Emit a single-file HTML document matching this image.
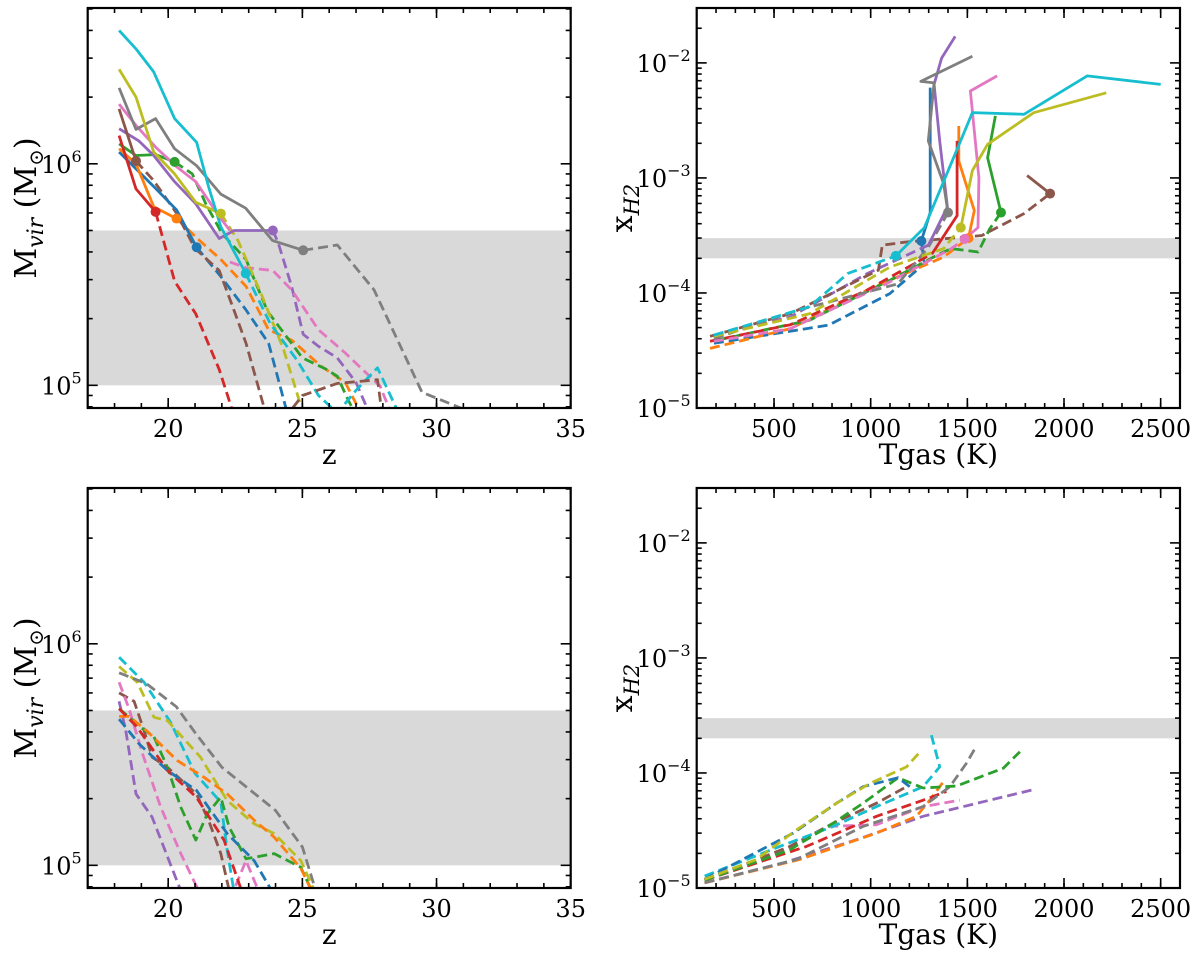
<!DOCTYPE html>
<html><head><meta charset="utf-8"><style>
html,body{margin:0;padding:0;background:#fff}
svg{display:block;font-family:"DejaVu Serif","Liberation Serif",serif}
</style></head><body>
<svg id="fig" width="1200" height="957" viewBox="0 0 1200 957" xmlns="http://www.w3.org/2000/svg"></svg>
<script>
// ===== data: top-left (z vs Mvir) =====
const tlBlueSz=[18.17,19.46,20.31,21.06], tlBlueSm=[1.13e6,7.9e5,6.2e5,4.2e5];
const tlBlueDz=[21.06,21.96,22.89,23.74,24.5], tlBlueDm=[4.2e5,3.1e5,2.2e5,1.55e5,7.0e4];
const tlOrangeSz=[18.17,18.8,19.46,20.31], tlOrangeSm=[1.17e6,1e6,6.4e5,5.66e5];
const tlOrangeDz=[20.31,21.17,21.96,22.9,23.74,24.6,25.7,26.6,27.3], tlOrangeDm=[5.66e5,4.5e5,3.7e5,2.8e5,1.78e5,1.6e5,1.22e5,1.03e5,7e4];
const tlGreenSz=[18.17,18.8,19.53,20.24], tlGreenSm=[1.23e6,1.09e6,1.1e6,1.02e6];
const tlGreenDz=[20.24,20.9,21.4,22.0,22.9,23.7,25.0,25.9,26.3,26.7,27.1], tlGreenDm=[1.02e6,9e5,6.6e5,4.85e5,3.7e5,2.16e5,1.33e5,1.18e5,1.1e5,8.6e4,7e4];
const tlRedSz=[18.17,18.8,19.53], tlRedSm=[1.34e6,7.7e5,6.07e5];
const tlRedDz=[19.53,20.24,21.03,21.9,22.5], tlRedDm=[6.07e5,2.95e5,2.1e5,1.18e5,7e4];
const tlPurpleSz=[18.17,18.9,19.46,20.24,21.03,21.9,22.46,23.9], tlPurpleSm=[1.44e6,1.27e6,1.09e6,8.3e5,6.6e5,4.6e5,5e5,5e5];
const tlPurpleDz=[23.9,24.1,24.6,25.03,25.6,26.3,27.0,27.6], tlPurpleDm=[5e5,4.4e5,2.8e5,1.7e5,1.5e5,1.33e5,1.03e5,7e4];
const tlBrownSz=[18.17,18.8], tlBrownSm=[1.77e6,1.03e6];
const tlBrownDz=[18.8,19.46,20.3,21.0,21.9,22.4,22.9,23.7], tlBrownDm=[1.03e6,8.4e5,6e5,4.15e5,3.3e5,2.27e5,1.55e5,7e4];
const tlBrown2Dz=[24.3,25.0,26.3,27.8,28.0], tlBrown2Dm=[7e4,9e4,1.02e5,1.06e5,7e4];
const tlPinkSz=[18.17,18.8,19.53,20.31,21.03,21.96,22.3], tlPinkSm=[1.86e6,1.49e6,1.19e6,9.7e5,8.3e5,5.66e5,5e5];
const tlPinkDz=[22.3,22.9,23.9,24.6,25.6,26.6,27.9,28.4], tlPinkDm=[3.6e5,3.4e5,3.3e5,2.7e5,1.78e5,1.4e5,9.9e4,7e4];
const tlGraySz=[18.17,18.8,19.53,20.24,21.06,21.96,22.89,23.89,25.03], tlGraySm=[2.2e6,1.43e6,1.6e6,1.17e6,9.8e5,7.3e5,6.3e5,4.5e5,4.07e5];
const tlGrayDz=[25.03,26.3,27.67,29.46,30.9,31.6], tlGrayDm=[4.07e5,4.3e5,2.7e5,9.3e4,7.9e4,7.4e4];
const tlOliveSz=[18.17,18.8,19.46,20.24,21.03,21.96], tlOliveSm=[2.67e6,2.0e6,1.13e6,9e5,6.7e5,5.96e5];
const tlOliveDz=[21.96,22.6,23.46,24.3,25.1], tlOliveDm=[5.96e5,4.5e5,2.6e5,1.45e5,7e4];
const tlCyanSz=[18.17,18.8,19.46,20.24,21.06,21.5,21.96,22.89], tlCyanSm=[4.0e6,3.3e6,2.6e6,1.6e6,1.25e6,7.9e5,5.2e5,3.2e5];
const tlCyanDz=[22.89,23.8,24.8,25.6,26.3,27.0,27.8,28.7], tlCyanDm=[3.2e5,1.9e5,1.3e5,9e4,7.5e4,9.5e4,1.2e5,7e4];

// ===== data: top-right (Tgas vs xH2) =====
const trBlueDt=[189,783,1100,1278,1262], trBlueDx=[3.65e-5,5.26e-5,9.9e-5,1.8e-4,2.83e-4];
const trBlueSt=[1262,1308,1308], trBlueSx=[2.83e-4,5e-4,6.1e-3];
const trOrangeDt=[169,585,981,1377,1506], trOrangeDx=[3.3e-5,4.9e-5,1.06e-4,2.05e-4,3.0e-4];
const trOrangeSt=[1506,1536,1456,1456], trOrangeSx=[3.0e-4,5.2e-4,1.4e-3,2.83e-3];
const trGreenDt=[209,684,1100,1357,1417,1556,1615,1674], trGreenDx=[3.9e-5,5.8e-5,1.29e-4,2.19e-4,2.43e-4,2.27e-4,3.6e-4,5e-4];
const trGreenSt=[1674,1605,1645], trGreenSx=[5e-4,1.5e-3,3.46e-3];
const trRedDt=[169,585,981,1318], trRedDx=[3.8e-5,5.3e-5,1.06e-4,2.2e-4];
const trRedSt=[1318,1387,1447,1447], trRedSx=[2.2e-4,3.3e-4,4.7e-4,2.1e-3];
const trPurpleDt=[189,585,981,1298], trPurpleDx=[4.2e-5,6.2e-5,1.47e-4,2.6e-4];
const trPurpleSt=[1298,1337,1397,1357,1328,1367,1437], trPurpleSx=[2.6e-4,3.5e-4,5.6e-4,2.1e-3,6.5e-3,1.1e-2,1.7e-2];
const trBrownDt=[169,585,1040,1060,1179,1575,1793,1928], trBrownDx=[4.2e-5,6.6e-5,1.58e-4,2.6e-4,2.77e-4,3.16e-4,4.9e-4,7.3e-4];
const trBrownSt=[1928,1809], trBrownSx=[7.3e-4,1.05e-3];
const trPinkDt=[189,585,1080,1417,1486], trPinkDx=[3.8e-5,4.9e-5,1.2e-4,2.43e-4,2.95e-4];
const trPinkSt=[1486,1555,1560,1516,1654], trPinkSx=[2.95e-4,3.7e-4,1.0e-3,5.7e-3,7.7e-3];
const trGrayDt=[189,625,1140,1298,1400], trGrayDx=[4.0e-5,7.1e-5,1.2e-4,2.5e-4,5e-4];
const trGraySt=[1400,1377,1298,1328,1259,1526], trGraySx=[5e-4,8.9e-4,2.1e-3,6.7e-3,6.9e-3,1.14e-2];
const trOliveDt=[189,684,1100,1377,1466], trOliveDx=[4.2e-5,6.6e-5,1.68e-4,2.43e-4,3.7e-4];
const trOliveSt=[1466,1526,1605,1843,2219], trOliveSx=[3.7e-4,1.16e-3,1.96e-3,3.69e-3,5.5e-3];
const trCyanDt=[189,684,882,1130], trCyanDx=[4.3e-5,7.6e-5,1.48e-4,2.1e-4];
const trCyanSt=[1130,1278,1526,1793,2120,2500], trCyanSx=[2.1e-4,3.7e-4,3.7e-3,3.57e-3,7.7e-3,6.5e-3];

// ===== data: bottom-left (z vs Mvir, dashed only) =====
const blCyanZ=[18.17,19.1,20.1,21.0,21.96,22.2,22.5], blCyanM=[8.7e5,6.7e5,4.4e5,2.6e5,1.93e5,1.17e5,7e4];
const blOliveZ=[18.17,18.85,19.47,19.97,21.2,22.2,23.2,23.95,24.94,25.6], blOliveM=[7.9e5,6.7e5,4.66e5,4.5e5,3.08e5,1.96e5,1.54e5,1.39e5,1.05e5,7e4];
const blGrayZ=[18.17,19.2,20.3,21.05,22.0,24.0,25.0,25.6], blGrayM=[7.4e5,6.6e5,5.2e5,3.9e5,2.77e5,1.77e5,1.21e5,7e4];
const blBrownZ=[18.17,18.73,19.1,19.4,19.97,21.05,21.5,21.96,22.35], blBrownM=[6.0e5,5.5e5,4.05e5,3.08e5,2.77e5,2.1e5,1.6e5,1.13e5,7e4];
const blPinkZ=[18.17,18.54,19.04,19.72,20.47,21.0,21.3], blPinkM=[6.7e5,5.1e5,3.2e5,1.83e5,1.13e5,8.3e4,7e4];
const blPink2Z=[22.3,22.9,23.5], blPink2M=[7e4,1.05e5,7e4];
const blPurpleZ=[18.17,18.42,18.8,19.4,20.03,20.6], blPurpleM=[5.5e5,4.05e5,2.1e5,1.65e5,1.05e5,7e4];
const blGreenZ=[18.17,18.98,19.47,19.97,20.47,21.03,21.46,21.96,22.27,22.9,23.95,24.94,25.5], blGreenM=[5.1e5,4.2e5,3.8e5,2.77e5,1.83e5,1.3e5,1.71e5,2.03e5,1.49e5,1.07e5,1.13e5,9.8e4,7e4];
const blOrangeZ=[18.17,18.54,19.2,20.34,21.33,22.2,23.2,23.95,24.94,25.5], blOrangeM=[4.7e5,4.7e5,4.05e5,2.97e5,2.5e5,2.1e5,1.6e5,1.34e5,9.7e4,7e4];
const blRedZ=[18.17,18.85,19.97,21.05,22.08,22.85], blRedM=[5.1e5,4.2e5,2.68e5,2.03e5,1.3e5,7e4];
const blBlueZ=[18.17,18.92,19.97,21.05,22.2,23.2,24.05], blBlueM=[4.57e5,3.53e5,2.68e5,2.18e5,1.39e5,1.05e5,7e4];

// ===== data: bottom-right (Tgas vs xH2, dashed only) =====
const brOliveT=[141,409,616,823,996,1185,1256], brOliveX=[1.19e-5,1.77e-5,3.2e-5,5.46e-5,8.1e-5,1.13e-4,1.53e-4];
const brBlueT=[141,599,823,961,1142,1202], brBlueX=[1.19e-5,3e-5,5.46e-5,7.6e-5,9.1e-5,7.6e-5];
const brGreenT=[141,582,806,961,1142,1271,1444,1686,1772], brGreenX=[1.17e-5,2.15e-5,3.66e-5,5.46e-5,9.1e-5,7.4e-5,7.7e-5,1.1e-4,1.53e-4];
const brCyanT=[141,530,806,1030,1271,1357,1314], brCyanX=[1.27e-5,2.3e-5,3.43e-5,5.1e-5,7.6e-5,1.13e-4,2.13e-4];
const brBrownT=[141,582,806,1030,1185], brBrownX=[1.17e-5,2.3e-5,3.66e-5,5.46e-5,7.6e-5];
const brGrayT=[141,616,961,1271,1409,1496,1539], brGrayX=[1.11e-5,1.77e-5,3.43e-5,5.1e-5,7.6e-5,1.22e-4,1.63e-4];
const brRedT=[141,668,1030,1271,1392], brRedX=[1.17e-5,2.3e-5,4.2e-5,5.8e-5,6.9e-5];
const brPinkT=[141,495,789,1030,1271,1461], brPinkX=[1.17e-5,1.89e-5,3.43e-5,3.55e-5,5.1e-5,5.8e-5];
const brOrangeT=[141,633,1030,1237,1306,1383], brOrangeX=[1.11e-5,1.77e-5,3e-5,4.2e-5,5.8e-5,8.7e-5];
const brPurpleT=[141,547,927,1271,1832], brPurpleX=[1.11e-5,1.65e-5,2.63e-5,4.2e-5,7.1e-5];

const zTicks=[20,25,30,35], tTicks=[500,1000,1500,2000,2500];
const mExps=[5,6], xExps=[-5,-4,-3,-2];
const bandM=[1e5,5e5], bandX=[2e-4,3e-4];

const C={blue:'#1f77b4',orange:'#ff7f0e',green:'#2ca02c',red:'#d62728',purple:'#9467bd',brown:'#8c564b',pink:'#e377c2',gray:'#7f7f7f',olive:'#bcbd22',cyan:'#17becf'};
const NS='http://www.w3.org/2000/svg';
const svg=document.getElementById('fig');
function mk(tag,attrs,parent){const e=document.createElementNS(NS,tag);for(const k in attrs)e.setAttribute(k,attrs[k]);(parent||svg).appendChild(e);return e;}

function panel(id,L,T,R,B,xmin,xmax,ylogmin,ylogmax){
  const g=mk('g',{});
  
  
  const clip=mk('clipPath',{id:'clip-'+id},g);
  mk('rect',{x:L,y:T,width:R-L,height:B-T},clip);
  const sx=v=>L+(v-xmin)/(xmax-xmin)*(R-L);
  const sy=v=>B-(Math.log10(v)-ylogmin)/(ylogmax-ylogmin)*(B-T);
  const plot=mk('g',{'clip-path':'url(#clip-'+id+')'},g);
  return {g,plot,sx,sy,L,T,R,B,xmin,xmax,ylogmin,ylogmax};
}
function band(p,lo,hi,name){
  const r=mk('rect',{x:p.L,y:p.sy(hi),width:p.R-p.L,height:p.sy(lo)-p.sy(hi),fill:'#d9d9d9'},p.plot);
  
  
}
function line(p,xs,ys,color,dashed,name){
  const d=xs.map((x,i)=>(i?'L':'M')+p.sx(x).toFixed(1)+','+p.sy(ys[i]).toFixed(1)).join('');
  const e=mk('path',{d:d,fill:'none',stroke:color,'stroke-width':2.8,'stroke-linejoin':'round'},p.plot);
  if(dashed)e.setAttribute('stroke-dasharray','10,5');
  
  
}
function marker(p,x,y,color,name){
  const c=mk('circle',{cx:p.sx(x),cy:p.sy(y),r:5,fill:color},p.plot);
  
  
}
function axes(p,xt,xminorStep,exps,xlabelNodes,ylabelFn,ylabX,prefix){
  const g=p.g;
  const fr=mk('rect',{x:p.L,y:p.T,width:p.R-p.L,height:p.B-p.T,fill:'none',stroke:'#000','stroke-width':2.2},g);
  
  
  const tk=(x1,y1,x2,y2)=>mk('line',{x1,y1,x2,y2,stroke:'#000','stroke-width':1.6},g);
  for(let v=Math.ceil(p.xmin/xminorStep)*xminorStep;v<=p.xmax;v+=xminorStep){const X=p.sx(v);tk(X,p.B,X,p.B-5);tk(X,p.T,X,p.T+5);}
  xt.forEach(v=>{const X=p.sx(v);tk(X,p.B,X,p.B-10);tk(X,p.T,X,p.T+10);
    const t=mk('text',{x:X,y:p.B+29,'text-anchor':'middle','font-size':24},g);t.textContent=v;
    
    });
  for(let e=Math.floor(p.ylogmin);e<=Math.ceil(p.ylogmax);e++){for(let m=2;m<=9;m++){const lv=e+Math.log10(m);if(lv<p.ylogmin||lv>p.ylogmax)continue;const Y=p.sy(Math.pow(10,lv));tk(p.L,Y,p.L+5,Y);tk(p.R,Y,p.R-5,Y);}}
  exps.forEach(e=>{const Y=p.sy(Math.pow(10,e));tk(p.L,Y,p.L+10,Y);tk(p.R,Y,p.R-10,Y);
    const t=mk('text',{x:p.L-6,y:Y+9,'text-anchor':'end','font-size':24},g);
    
    
    t.appendChild(document.createTextNode('10'));
    const s=mk('tspan',{dy:-11,'font-size':16},t);s.textContent=(e<0?'\u2212':'')+Math.abs(e);});
  const xl=mk('text',{x:(p.L+p.R)/2,y:p.B+56,'text-anchor':'middle','font-size':28},g);
  
  
  xl.textContent=xlabelNodes;
  const yl=mk('text',{x:ylabX,y:(p.T+p.B)/2,'text-anchor':'middle','font-size':30,transform:'rotate(-90 '+ylabX+' '+((p.T+p.B)/2)+')'},g);
  
  
  ylabelFn(yl);
}
function mLabel(t){t.appendChild(document.createTextNode('M'));
  const a=mk('tspan',{'font-style':'italic','font-size':22,dy:7},t);a.textContent='vir';
  const b=mk('tspan',{dy:-7},t);b.textContent=' (M';
  const c=mk('tspan',{'font-size':20,dy:7},t);c.textContent='\u2299';
  const d=mk('tspan',{dy:-7},t);d.textContent=')';}
function xLabel(t){t.appendChild(document.createTextNode('x'));
  const a=mk('tspan',{'font-style':'italic','font-size':21,dy:7},t);a.textContent='H2';}

const ML=87.7,MR=570.7,RL=696.7,RR=1180;
const zmin=17,zmax=35,mlo=Math.log10(7.9e4),mhi=Math.log10(5.05e6);
const tmin=100,tmax=2600,xlo=-5,xhi=Math.log10(3e-2);

const tl=panel('top-left-panel',ML,8,MR,408,zmin,zmax,mlo,mhi);
band(tl,bandM[0],bandM[1],'mass-band');
const tlS=[['blue',tlBlueSz,tlBlueSm,tlBlueDz,tlBlueDm],['orange',tlOrangeSz,tlOrangeSm,tlOrangeDz,tlOrangeDm],['green',tlGreenSz,tlGreenSm,tlGreenDz,tlGreenDm],['red',tlRedSz,tlRedSm,tlRedDz,tlRedDm],['purple',tlPurpleSz,tlPurpleSm,tlPurpleDz,tlPurpleDm],['brown',tlBrownSz,tlBrownSm,tlBrownDz,tlBrownDm],['pink',tlPinkSz,tlPinkSm,tlPinkDz,tlPinkDm],['gray',tlGraySz,tlGraySm,tlGrayDz,tlGrayDm],['olive',tlOliveSz,tlOliveSm,tlOliveDz,tlOliveDm],['cyan',tlCyanSz,tlCyanSm,tlCyanDz,tlCyanDm]];
tlS.forEach(s=>line(tl,s[3],s[4],C[s[0]],true,s[0]+'-dashed-track'));
line(tl,tlBrown2Dz,tlBrown2Dm,C.brown,true,'brown-dashed-track-2');
tlS.forEach(s=>line(tl,s[1],s[2],C[s[0]],false,s[0]+'-solid-track'));
tlS.forEach(s=>{if(s[0]!=='pink')marker(tl,s[3][0],s[4][0],C[s[0]],s[0]+'-marker');});
axes(tl,zTicks,1,mExps,'z',mLabel,36,'top-left');

const tr=panel('top-right-panel',RL,8,RR,408,tmin,tmax,xlo,xhi);
band(tr,bandX[0],bandX[1],'h2-band');
const trS=[['blue',trBlueDt,trBlueDx,trBlueSt,trBlueSx],['orange',trOrangeDt,trOrangeDx,trOrangeSt,trOrangeSx],['green',trGreenDt,trGreenDx,trGreenSt,trGreenSx],['red',trRedDt,trRedDx,trRedSt,trRedSx],['purple',trPurpleDt,trPurpleDx,trPurpleSt,trPurpleSx],['brown',trBrownDt,trBrownDx,trBrownSt,trBrownSx],['pink',trPinkDt,trPinkDx,trPinkSt,trPinkSx],['gray',trGrayDt,trGrayDx,trGraySt,trGraySx],['olive',trOliveDt,trOliveDx,trOliveSt,trOliveSx],['cyan',trCyanDt,trCyanDx,trCyanSt,trCyanSx]];
trS.forEach(s=>line(tr,s[1],s[2],C[s[0]],true,s[0]+'-dashed-track'));
trS.forEach(s=>line(tr,s[3],s[4],C[s[0]],false,s[0]+'-solid-track'));
trS.forEach(s=>{if(s[0]!=='red'&&s[0]!=='purple')marker(tr,s[3][0],s[4][0],C[s[0]],s[0]+'-marker');});
axes(tr,tTicks,100,xExps,'Tgas (K)',xLabel,632,'top-right');

const bl=panel('bottom-left-panel',ML,488,MR,888,zmin,zmax,mlo,mhi);
band(bl,bandM[0],bandM[1],'mass-band');
[['cyan',blCyanZ,blCyanM],['olive',blOliveZ,blOliveM],['gray',blGrayZ,blGrayM],['brown',blBrownZ,blBrownM],['pink',blPinkZ,blPinkM],['pink',blPink2Z,blPink2M],['purple',blPurpleZ,blPurpleM],['green',blGreenZ,blGreenM],['orange',blOrangeZ,blOrangeM],['red',blRedZ,blRedM],['blue',blBlueZ,blBlueM]].forEach(s=>line(bl,s[1],s[2],C[s[0]],true,s[0]+'-dashed-track'));
axes(bl,zTicks,1,mExps,'z',mLabel,36,'bottom-left');

const br=panel('bottom-right-panel',RL,488,RR,888,tmin,tmax,xlo,xhi);
band(br,bandX[0],bandX[1],'h2-band');
[['purple',brPurpleT,brPurpleX],['orange',brOrangeT,brOrangeX],['pink',brPinkT,brPinkX],['red',brRedT,brRedX],['gray',brGrayT,brGrayX],['brown',brBrownT,brBrownX],['cyan',brCyanT,brCyanX],['green',brGreenT,brGreenX],['blue',brBlueT,brBlueX],['olive',brOliveT,brOliveX]].forEach(s=>line(br,s[1],s[2],C[s[0]],true,s[0]+'-dashed-track'));
axes(br,tTicks,100,xExps,'Tgas (K)',xLabel,632,'bottom-right');
</script>
</body></html>
